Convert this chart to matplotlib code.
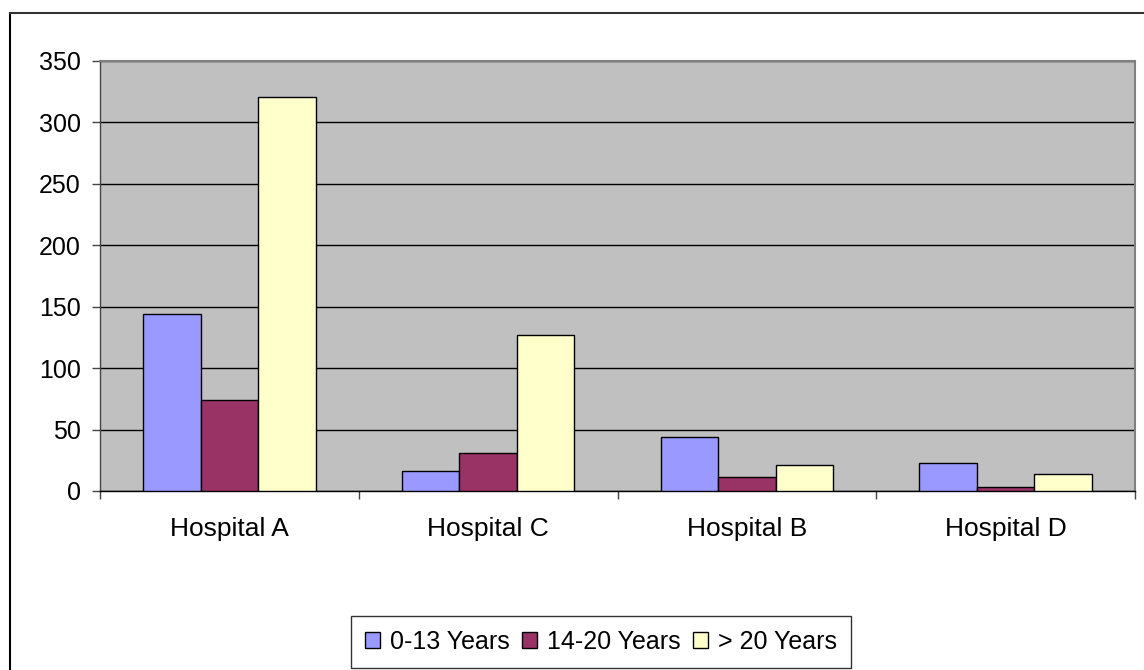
import matplotlib
matplotlib.use("Agg")
import matplotlib.pyplot as plt
from matplotlib.lines import Line2D
import numpy as np

plt.rcParams['font.family'] = ['Liberation Sans', 'DejaVu Sans']

categories = ["Hospital A", "Hospital C", "Hospital B", "Hospital D"]
series_names = ["0-13 Years", "14-20 Years", "> 20 Years"]
age_0_13 = [144, 16, 44, 23]
age_14_20 = [74, 31, 11, 3]
age_over_20 = [321, 127, 21, 14]
yticks = [0, 50, 100, 150, 200, 250, 300, 350]

colors = ["#9999FF", "#993366", "#FFFFCC"]

W, H = 1144, 670
fig = plt.figure(figsize=(W / 100, H / 100), dpi=100)
fig.patch.set_facecolor("white")

# outer chart border (top and left visible)
fig.add_artist(Line2D([10 / W, 10 / W], [0, 1 - 13 / H], transform=fig.transFigure,
                      color="black", lw=1.5))
fig.add_artist(Line2D([10 / W, 1], [1 - 13 / H, 1 - 13 / H], transform=fig.transFigure,
                      color="#333333", lw=1.5))

left, right, top, bottom = 100, 1135, 61, 491
ax = fig.add_axes([left / W, 1 - bottom / H, (right - left) / W, (bottom - top) / H])
ax.set_facecolor("#C0C0C0")

n = len(categories)
x = np.arange(n)
bw = 1 / 4.5
data = [age_0_13, age_14_20, age_over_20]
for i, (vals, c, name) in enumerate(zip(data, colors, series_names)):
    ax.bar(x + (i - 1) * bw, vals, width=bw, color=c, edgecolor="black",
           linewidth=1.0, label=name, zorder=3)

ax.set_xlim(-0.5, n - 0.5)
ax.set_ylim(0, 350)
ax.set_yticks(yticks)
ax.set_yticklabels([str(v) for v in yticks], fontsize=18)
ax.yaxis.grid(True, color="black", linewidth=1.0, zorder=1)
ax.set_axisbelow(True)

ax.set_xticks(x)
ax.set_xticklabels(categories, fontsize=19)
ax.tick_params(axis="x", length=0, pad=19)
ax.set_xticks(np.arange(n + 1) - 0.5, minor=True)
ax.tick_params(axis="x", which="minor", length=6, width=1.0, color="#444444", direction="out")
ax.tick_params(axis="y", length=6, width=1.0, color="#444444", direction="out", pad=8)

for s in ["top", "right"]:
    ax.spines[s].set_color("#808080")
    ax.spines[s].set_linewidth(1.5)
ax.spines["left"].set_color("#444444")
ax.spines["bottom"].set_color("black")
ax.spines["left"].set_linewidth(1.0)
ax.spines["bottom"].set_linewidth(1.0)

leg = fig.legend(loc="center", bbox_to_anchor=(601 / W, 1 - 642 / H), ncol=3,
                 fontsize=18, frameon=True, fancybox=False, edgecolor="black",
                 handlelength=0.6, handleheight=0.6, handletextpad=0.4,
                 columnspacing=0.5, borderpad=0.55, borderaxespad=0)
leg.get_frame().set_linewidth(1.0)

fig.savefig("out.png", dpi=100)
